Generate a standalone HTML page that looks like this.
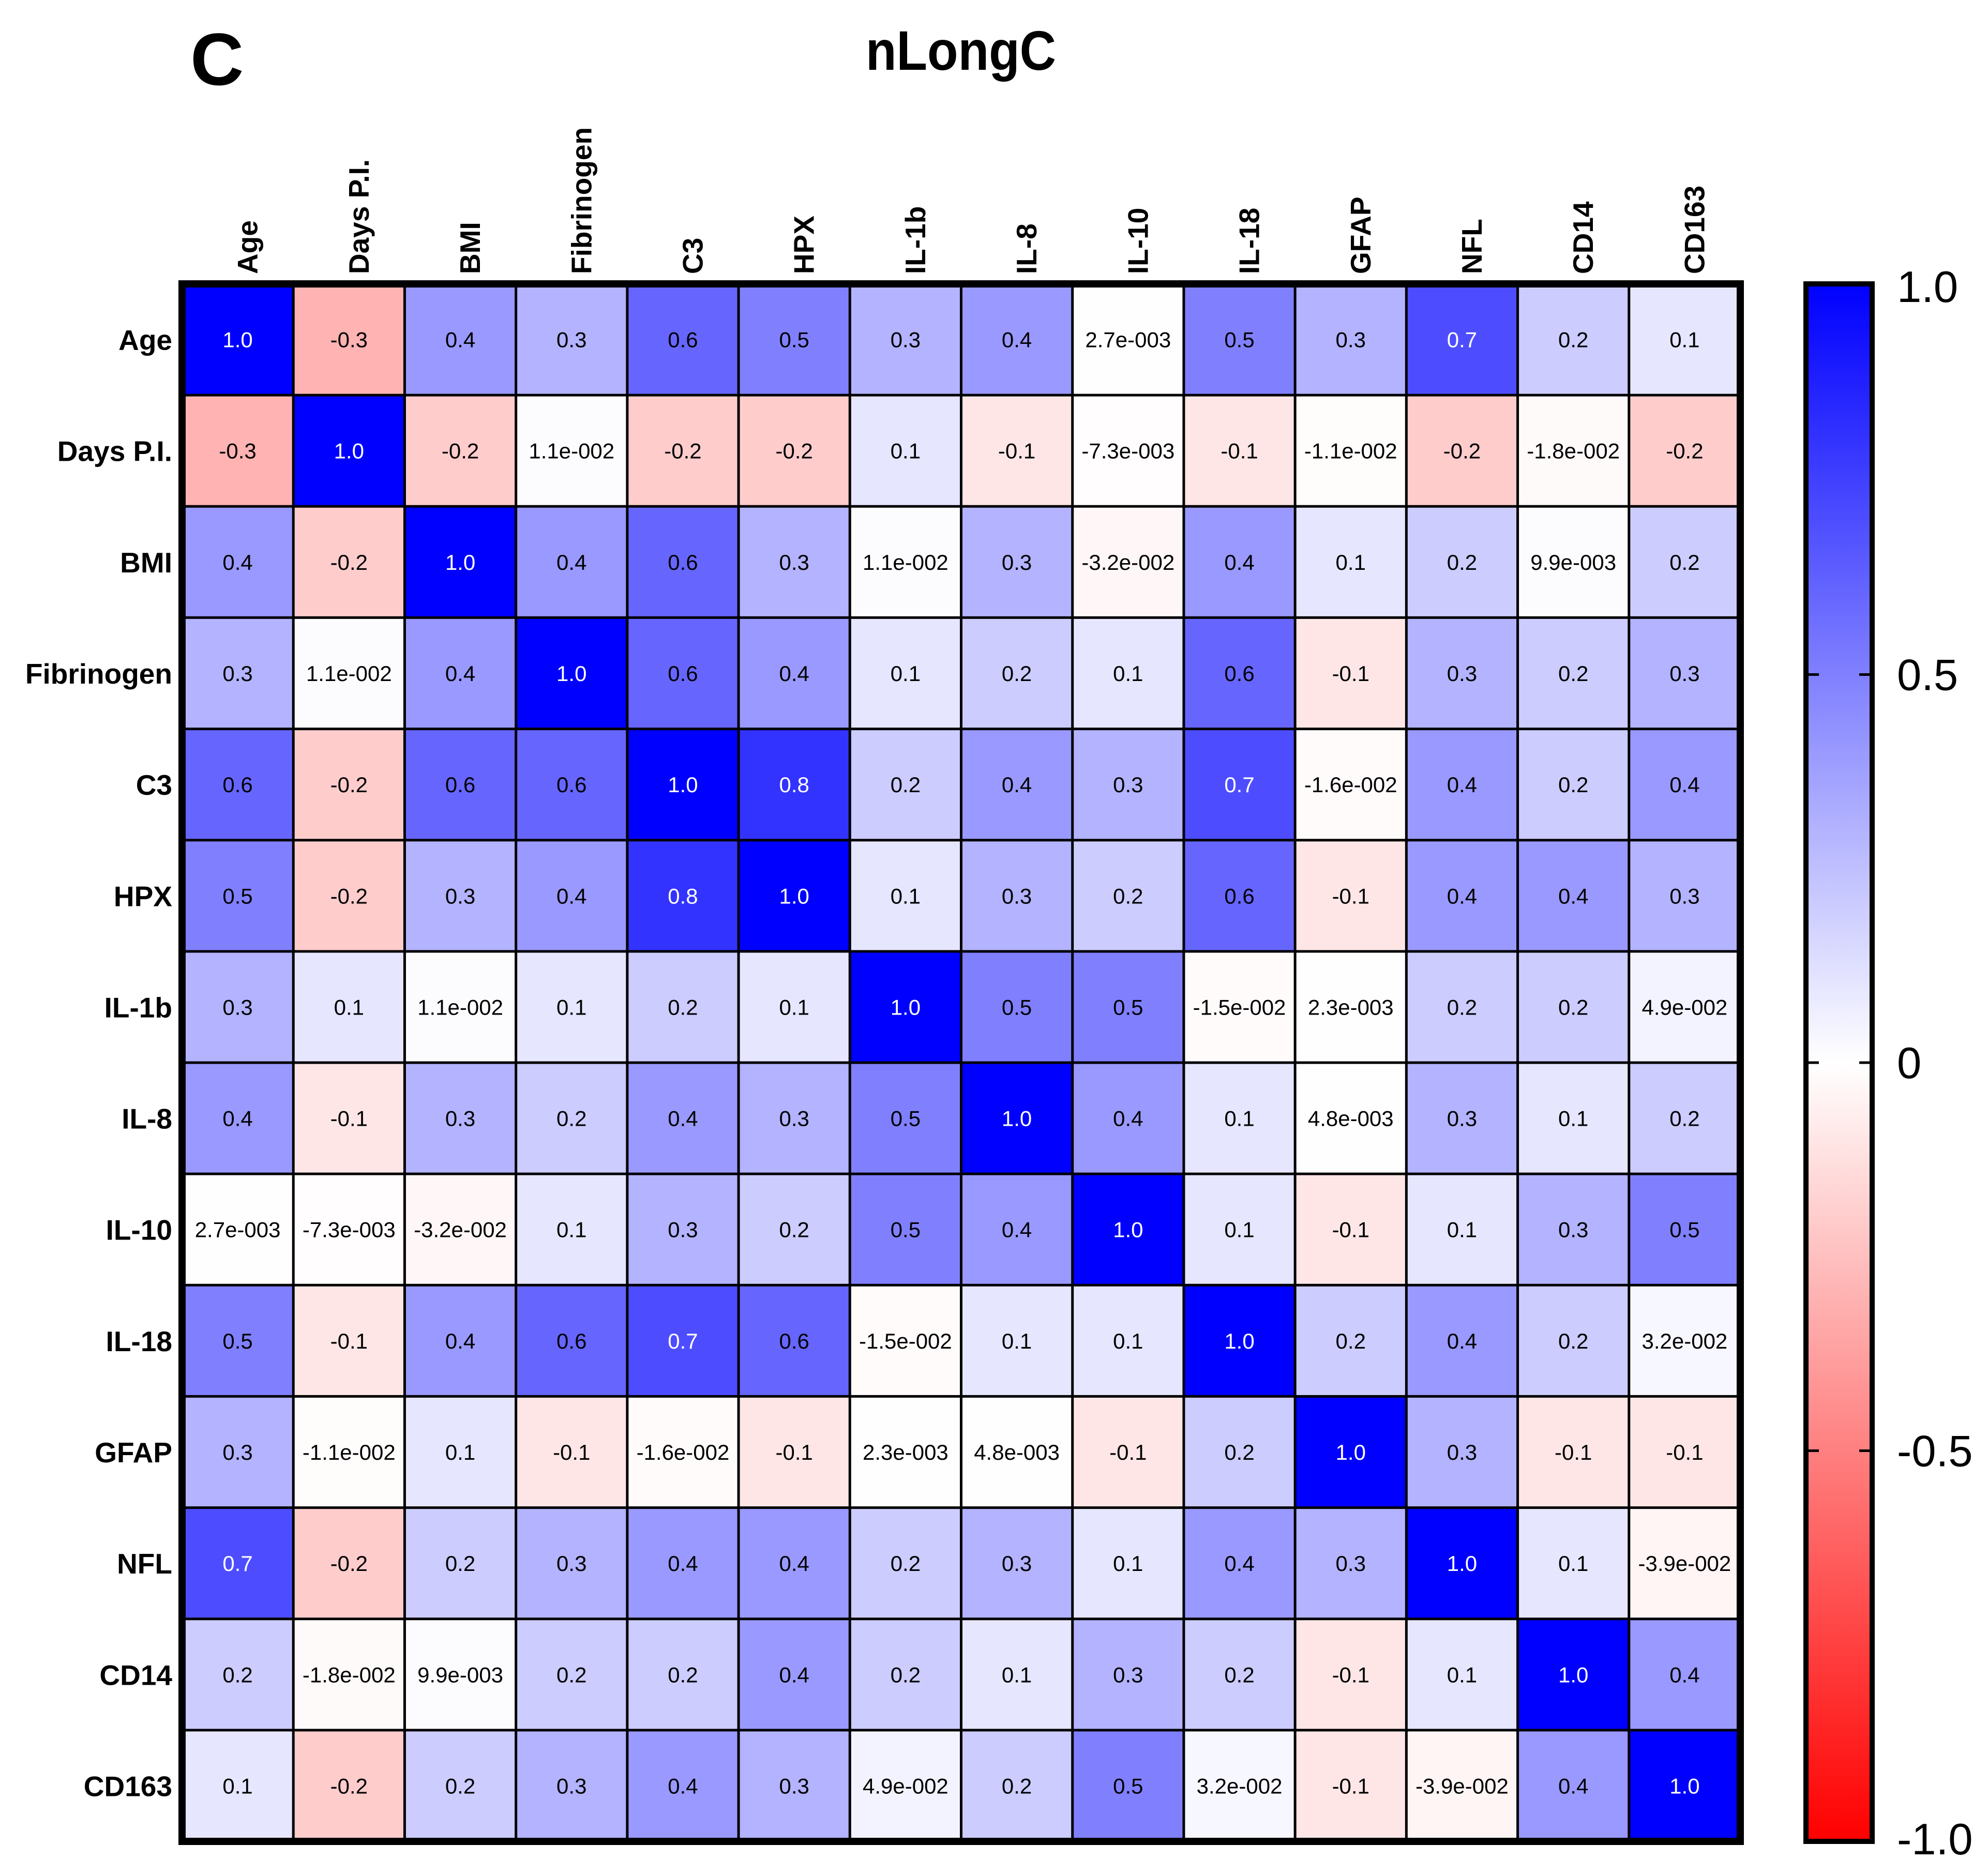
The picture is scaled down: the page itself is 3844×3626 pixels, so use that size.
<!DOCTYPE html>
<html><head><meta charset="utf-8"><style>
html,body{margin:0;padding:0;background:#fff;}
svg{display:block;font-family:"Liberation Sans",Arial,sans-serif;}
</style></head><body>
<svg id="chart" width="3844" height="3626" viewBox="0 0 3844 3626" xmlns="http://www.w3.org/2000/svg">
<defs>
<linearGradient id="cbgrad" x1="0" y1="0" x2="0" y2="1">
<stop offset="0" stop-color="#0000ff"/><stop offset="0.5" stop-color="#ffffff"/><stop offset="1" stop-color="#ff0000"/>
</linearGradient>
</defs>
<text x="368" y="164" font-size="143" font-weight="bold">C</text>
<text x="1858" y="135" font-size="108" font-weight="bold" text-anchor="middle" textLength="368" lengthAdjust="spacingAndGlyphs">nLongC</text>
<g id="cells"></g>
<g id="lines"></g>
<g id="labels"></g>
<rect x="352" y="549" width="3013" height="3012" fill="none" stroke="#000" stroke-width="14"/>
<rect x="3492" y="549" width="128" height="3012" fill="url(#cbgrad)" stroke="#000" stroke-width="10"/>
<g id="cbticks"></g>
</svg>
<script>
const variables = ["Age","Days P.I.","BMI","Fibrinogen","C3","HPX","IL-1b","IL-8","IL-10","IL-18","GFAP","NFL","CD14","CD163"];
const rowAge = [1.0,-0.3,0.4,0.3,0.6,0.5,0.3,0.4,0.0027,0.5,0.3,0.7,0.2,0.1];
const rowDays = [-0.3,1.0,-0.2,0.011,-0.2,-0.2,0.1,-0.1,-0.0073,-0.1,-0.011,-0.2,-0.018,-0.2];
const rowBMI = [0.4,-0.2,1.0,0.4,0.6,0.3,0.011,0.3,-0.032,0.4,0.1,0.2,0.0099,0.2];
const rowFib = [0.3,0.011,0.4,1.0,0.6,0.4,0.1,0.2,0.1,0.6,-0.1,0.3,0.2,0.3];
const rowC3 = [0.6,-0.2,0.6,0.6,1.0,0.8,0.2,0.4,0.3,0.7,-0.016,0.4,0.2,0.4];
const rowHPX = [0.5,-0.2,0.3,0.4,0.8,1.0,0.1,0.3,0.2,0.6,-0.1,0.4,0.4,0.3];
const rowIL1b = [0.3,0.1,0.011,0.1,0.2,0.1,1.0,0.5,0.5,-0.015,0.0023,0.2,0.2,0.049];
const rowIL8 = [0.4,-0.1,0.3,0.2,0.4,0.3,0.5,1.0,0.4,0.1,0.0048,0.3,0.1,0.2];
const rowIL10 = [0.0027,-0.0073,-0.032,0.1,0.3,0.2,0.5,0.4,1.0,0.1,-0.1,0.1,0.3,0.5];
const rowIL18 = [0.5,-0.1,0.4,0.6,0.7,0.6,-0.015,0.1,0.1,1.0,0.2,0.4,0.2,0.032];
const rowGFAP = [0.3,-0.011,0.1,-0.1,-0.016,-0.1,0.0023,0.0048,-0.1,0.2,1.0,0.3,-0.1,-0.1];
const rowNFL = [0.7,-0.2,0.2,0.3,0.4,0.4,0.2,0.3,0.1,0.4,0.3,1.0,0.1,-0.039];
const rowCD14 = [0.2,-0.018,0.0099,0.2,0.2,0.4,0.2,0.1,0.3,0.2,-0.1,0.1,1.0,0.4];
const rowCD163 = [0.1,-0.2,0.2,0.3,0.4,0.3,0.049,0.2,0.5,0.032,-0.1,-0.039,0.4,1.0];
const matrix = [rowAge,rowDays,rowBMI,rowFib,rowC3,rowHPX,rowIL1b,rowIL8,rowIL10,rowIL18,rowGFAP,rowNFL,rowCD14,rowCD163];
const cbTicks = [1.0,0.5,0,-0.5,-1.0];
const cbTickLabels = ["1.0","0.5","0","-0.5","-1.0"];

const NS = "http://www.w3.org/2000/svg";
const X0 = 352, Y0 = 549, W = 3013, H = 3012;
const n = variables.length;
const cw = W / n, ch = H / n;
const xPos = i => X0 + i * cw;
const yPos = i => Y0 + i * ch;
const CB_TOP = 554, CB_BOT = 3556;
const cbY = v => CB_TOP + (1 - v) / 2 * (CB_BOT - CB_TOP);

function color(v) {
  v = Math.max(-1, Math.min(1, v));
  if (v >= 0) { const c = Math.round(255 * (1 - v)); return `rgb(${c},${c},255)`; }
  const c = Math.round(255 * (1 + v)); return `rgb(255,${c},${c})`;
}
function fmt(v) {
  if (v !== 0 && Math.abs(v) < 0.05) {
    const e = Math.floor(Math.log10(Math.abs(v)));
    const m = v / Math.pow(10, e);
    const es = (e < 0 ? "-" : "+") + String(Math.abs(e)).padStart(3, "0");
    return m.toFixed(1) + "e" + es;
  }
  return v.toFixed(1);
}
function mk(tag, attrs, parent) {
  const el = document.createElementNS(NS, tag);
  for (const k in attrs) el.setAttribute(k, attrs[k]);
  parent.appendChild(el);
  return el;
}
const gCells = document.getElementById("cells");
const gLines = document.getElementById("lines");
const gLabels = document.getElementById("labels");
const gTicks = document.getElementById("cbticks");

for (let r = 0; r < n; r++) {
  for (let c = 0; c < n; c++) {
    const v = matrix[r][c];
    const rect = mk("rect", {x: xPos(c), y: yPos(r), width: cw + 0.5, height: ch + 0.5, fill: color(v)}, gCells);
    
    
    const t = mk("text", {x: xPos(c) + cw / 2, y: yPos(r) + ch / 2 + 15, "font-size": 42, "text-anchor": "middle", fill: v >= 0.65 ? "#fff" : "#000"}, gCells);
    
    
    t.textContent = fmt(v);
  }
}
for (let i = 1; i < n; i++) {
  const lv = mk("line", {x1: xPos(i), x2: xPos(i), y1: Y0, y2: Y0 + H, stroke: "#000", "stroke-width": 5}, gLines);
  
  
  const lh = mk("line", {x1: X0, x2: X0 + W, y1: yPos(i), y2: yPos(i), stroke: "#000", "stroke-width": 5}, gLines);
  
  
}
for (let i = 0; i < n; i++) {
  const cx = xPos(i) + cw / 2 + 38;
  const ct = mk("text", {x: 0, y: 0, transform: `translate(${cx},530) rotate(-90)`, "font-size": 55, "font-weight": "bold"}, gLabels);
  
  
  ct.textContent = variables[i];
  const rt = mk("text", {x: 333, y: yPos(i) + ch / 2 + 20, "font-size": 55, "font-weight": "bold", "text-anchor": "end"}, gLabels);
  
  
  rt.textContent = variables[i];
}
for (let i = 0; i < cbTicks.length; i++) {
  const y = cbY(cbTicks[i]);
  if (Math.abs(cbTicks[i]) < 1) {
    const a = mk("line", {x1: 3497, x2: 3517, y1: y, y2: y, stroke: "#000", "stroke-width": 5}, gTicks);
    
    
    const b = mk("line", {x1: 3595, x2: 3615, y1: y, y2: y, stroke: "#000", "stroke-width": 5}, gTicks);
    
    
  }
  const t = mk("text", {x: 3668, y: y + 30, "font-size": 85}, gTicks);
  
  
  t.textContent = cbTickLabels[i];
}
</script>
</body></html>
